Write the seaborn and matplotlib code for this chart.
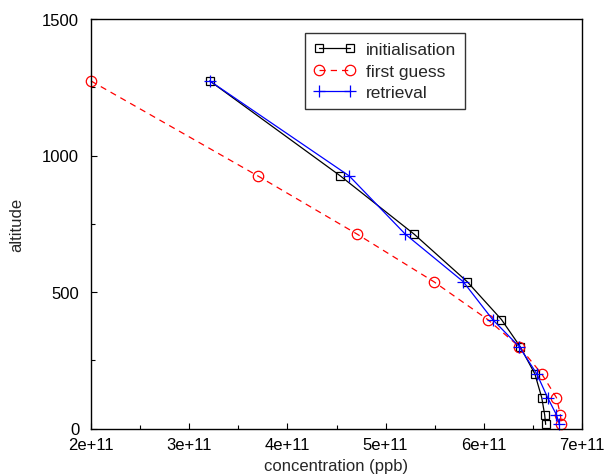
import numpy as np
import pandas as pd
import matplotlib
matplotlib.use('Agg')
import matplotlib.pyplot as plt
import seaborn as sns
from matplotlib.ticker import AutoMinorLocator

# altitude levels (same for all three profiles)
altitude = [1273, 925, 712, 538, 399, 300, 200, 113, 50, 15]

initialisation = [3.21e11, 4.54e11, 5.29e11, 5.83e11, 6.18e11, 6.37e11, 6.52e11, 6.59e11, 6.62e11, 6.63e11]
first_guess = [2.00e11, 3.70e11, 4.71e11, 5.49e11, 6.04e11, 6.36e11, 6.59e11, 6.74e11, 6.78e11, 6.79e11]
retrieval = [3.21e11, 4.63e11, 5.20e11, 5.79e11, 6.09e11, 6.36e11, 6.54e11, 6.65e11, 6.74e11, 6.77e11]

series_names = ['initialisation', 'first guess', 'retrieval']
x_ticks = [2e11, 3e11, 4e11, 5e11, 6e11, 7e11]
x_tick_labels = ['2e+11', '3e+11', '4e+11', '5e+11', '6e+11', '7e+11']
y_ticks = [0, 500, 1000, 1500]

df = pd.DataFrame({'altitude': altitude,
                   'initialisation': initialisation,
                   'first guess': first_guess,
                   'retrieval': retrieval})

sns.set_style('white')
plt.rcParams['font.family'] = ['Liberation Sans', 'DejaVu Sans']
plt.rcParams['font.size'] = 12

fig = plt.figure(figsize=(6.05, 4.77), dpi=100)
ax = fig.add_axes([91/605, 1 - 429.5/477, 491/605, 409.5/477])

styles = {
    'initialisation': dict(color='black', marker='s', linestyle='-', markersize=6),
    'first guess': dict(color='red', marker='o', linestyle=(0, (5, 4)), markersize=7.5),
    'retrieval': dict(color='blue', marker='+', linestyle='-', markersize=9),
}

for name in series_names:
    st = styles[name]
    sns.lineplot(data=df, x=name, y='altitude', sort=False, estimator=None, ax=ax,
                 color=st['color'], marker=st['marker'], linestyle=st['linestyle'],
                 markersize=st['markersize'], markerfacecolor='none',
                 markeredgecolor=st['color'], markeredgewidth=0.9,
                 linewidth=0.9, clip_on=False, label=name)

ax.set_xlim(2e11, 7e11)
ax.set_ylim(0, 1500)
ax.set_xticks(x_ticks)
ax.set_xticklabels(x_tick_labels)
ax.set_yticks(y_ticks)
ax.xaxis.set_minor_locator(AutoMinorLocator(2))
ax.yaxis.set_minor_locator(AutoMinorLocator(2))
ax.tick_params(which='both', direction='in', bottom=True, left=True, top=False, right=False,
               colors='black', labelsize=12)
ax.tick_params(which='major', length=4, width=0.8)
ax.tick_params(which='minor', length=3, width=0.8)
ax.tick_params(axis='y', pad=8.5)
ax.tick_params(axis='x', pad=6)

for sp in ax.spines.values():
    sp.set_color('black')
    sp.set_linewidth(1.0)

ax.set_xlabel('concentration (ppb)', fontsize=12)
ax.set_ylabel('altitude', fontsize=12)
ax.xaxis.set_label_coords(0.5, -0.072)
ax.yaxis.set_label_coords(-0.136, 0.5)

leg = ax.legend(loc='upper right', bbox_to_anchor=((465-91)/491, (429.5-34)/409.5),
                numpoints=2, handlelength=2.4, handletextpad=0.6, labelspacing=0.38,
                fancybox=False, frameon=True, borderaxespad=0, fontsize=12.5,
                borderpad=0.5)
leg.get_frame().set_edgecolor('black')
leg.get_frame().set_linewidth(1.0)

fig.savefig('out.png', dpi=100)
